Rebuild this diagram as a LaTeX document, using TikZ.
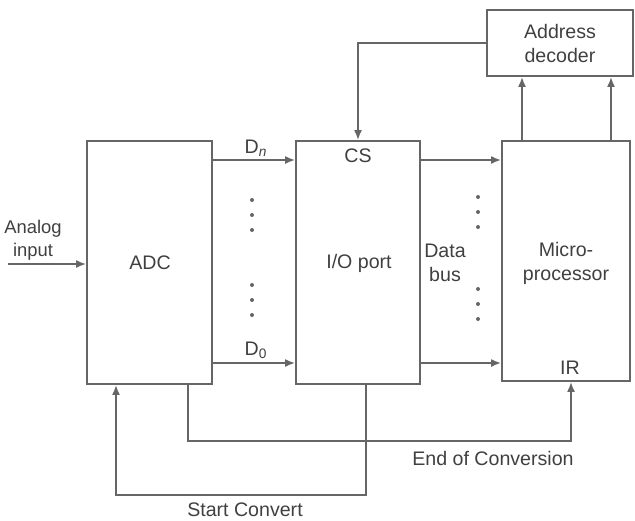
\documentclass[tikz,border=0pt]{standalone}
\usepackage{fontspec}
\setmainfont{Liberation Sans}
\usetikzlibrary{arrows.meta}

\begin{document}
\begin{tikzpicture}[x=0.5pt, y=-0.5pt, >={Latex[length=5pt,width=4pt]},
        line width=0.9pt, draw=black!60, text=black!75,
        every node/.style={font=\fontsize{9.8}{11}\selectfont},
        block/.style={draw=black!60, line width=0.9pt, inner sep=0pt},
        lbl/.style={align=center, inner sep=0pt}]
        \useasboundingbox (0,0) rectangle (635,520);

        % Blocks
        \node[block, minimum width=62.5pt, minimum height=121.5pt] (adc) at (149.5,262.5) {};
        \node[block, minimum width=62pt, minimum height=121.5pt] (io) at (358,262.5) {};
        \node[block, minimum width=64pt, minimum height=120pt] (mp) at (566,261) {};
        \node[block, minimum width=73pt, minimum height=33pt] (dec) at (560,43) {};

        % Block texts
        \node[lbl] (adct) at (150,263) {ADC};
        \node[lbl] (iot) at (359,263) {I/O port};
        \node[lbl] (mpt) at (566,263) {Micro-\\[1pt]processor};
        \node[lbl] (dect) at (560,43) {Address\\[1pt]decoder};
        \node[lbl] (cs) at (358,156) {CS};
        \node[lbl] (ir) at (570,368) {IR};

        % Analog input
        \coordinate (ain) at (8,264);
        \draw[->] (ain) -- (ain -| adc.west);
        \node[lbl, font=\fontsize{9.2}{10.5}\selectfont] (aint) at (33,240) {Analog\\[1pt]input};

        % Data lines ADC -> I/O port
        \draw[->] (adc.east |- 0,160) -- (io.west |- 0,160);
        \draw[->] (adc.east |- 0,363) -- (io.west |- 0,363);
        \node[lbl] (dn) at (256,148) {D\textsubscript{\itshape n}};
        \node[lbl] (d0) at (256,350) {D\textsubscript{0}};
        \foreach \y in {200,215,230,285,300,315}
            \fill[black!60] (252,\y) circle (2);

        % Data bus I/O port -> microprocessor
        \draw[->] (io.east |- 0,160) -- (mp.west |- 0,160);
        \draw[->] (io.east |- 0,363) -- (mp.west |- 0,363);
        \node[lbl] (bus) at (445,263) {Data\\[1pt]bus};
        \foreach \y in {197,212,227,289,304,319}
            \fill[black!60] (478,\y) circle (2);

        % Address decoder
        \draw[->] (dec.west) -| (io.north);
        \draw[->] (mp.north -| 522,0) -- (dec.south -| 522,0);
        \draw[->] (mp.north -| 611,0) -- (dec.south -| 611,0);

        % Handshake lines
        \draw[->] (adc.south -| 188,0) |- (571,441) -- (mp.south -| 571,0);
        \node[lbl] (eoc) at (493,458) {End of Conversion};
        \draw[->] (io.south -| 366,0) |- (116,495) -- (adc.south -| 116,0);
        \node[lbl] (sc) at (245,510) {Start Convert};
\end{tikzpicture}
\end{document}
